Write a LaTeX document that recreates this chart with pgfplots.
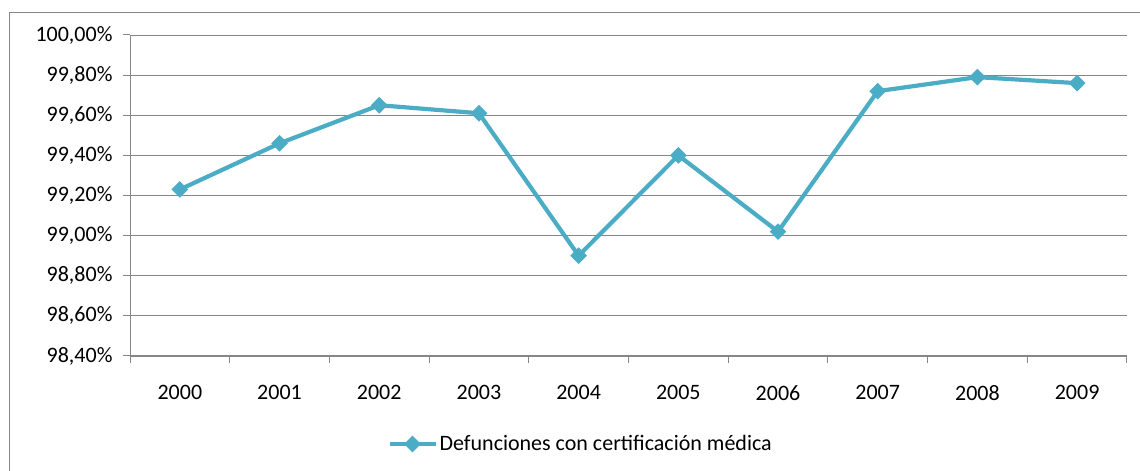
\documentclass[border=0pt]{standalone}
\usepackage{fontspec}
\setmainfont{Carlito}
\usepackage{pgfplots}
\pgfplotsset{compat=1.18}
\definecolor{serie}{RGB}{75,172,198}
\definecolor{rejilla}{RGB}{134,134,134}

\begin{document}
\begin{tikzpicture}
\begin{axis}[
  at={(130bp,115bp)}, anchor=south west,
  scale only axis, width=997bp, height=321bp,
  xmin=-0.5, xmax=9.5, ymin=98.4, ymax=100,
  xtick={0,1,2,3,4,5,6,7,8,9},
  xticklabels={2000,2001,2002,2003,2004,2005,2006,2007,2008,2009},
  ytick={98.4,98.6,98.8,99.0,99.2,99.4,99.6,99.8,100},
  yticklabels={{98,40\%},{98,60\%},{98,80\%},{99,00\%},{99,20\%},{99,40\%},{99,60\%},{99,80\%},{100,00\%}},
  axis x line*=bottom, axis y line*=left,
  axis line style={rejilla, line width=1bp, -},
  ymajorgrids, grid style={rejilla, line width=0.9bp},
  tick align=outside, major tick length=7bp,
  tick style={rejilla, line width=1bp},
  xtick style={draw=none},
  tick label style={font=\fontsize{22bp}{26bp}\selectfont, text=black},
  xticklabel style={yshift=-19bp},
  yticklabel style={xshift=-7bp},
  clip=false,
  legend style={draw=none, fill=none, at={(0.452,-0.274)}, anchor=center,
    font=\fontsize{22bp}{26bp}\selectfont, inner sep=0pt},
  legend image code/.code={\draw[#1, mark repeat=2, mark phase=2]
    plot coordinates {(0bp,0bp) (23bp,0bp) (46bp,0bp)};},
]
% marcas entre categorias
\pgfplotsinvokeforeach{-0.5,0.5,1.5,2.5,3.5,4.5,5.5,6.5,7.5,8.5,9.5}{
  \draw[rejilla, line width=1bp] (axis cs:#1,98.4) -- ++(0pt,-7bp);
}
\addplot[serie, line width=4.2bp, mark=square*, mark size=5.4bp,
  mark options={rotate=45, solid, line width=1bp}]
  coordinates {(0,99.23) (1,99.46) (2,99.65) (3,99.61) (4,98.90)
               (5,99.40) (6,99.02) (7,99.72) (8,99.79) (9,99.76)};
\addlegendentry{Defunciones con certificación médica}
\end{axis}
\draw[rejilla, line width=1bp] (9bp,-10bp) -- (9bp,458bp) -- (1150bp,458bp);
\pgfresetboundingbox
\path[use as bounding box] (0,0) rectangle (1140bp,471bp);
\end{tikzpicture}
\end{document}
